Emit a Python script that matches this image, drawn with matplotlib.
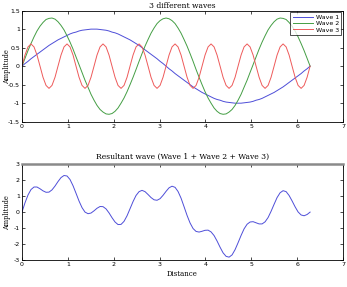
import numpy as np
import matplotlib
matplotlib.use('Agg')
import matplotlib.pyplot as plt

# sample positions along the distance axis (0 .. 2*pi)
distance = [0.000, 0.065, 0.131, 0.196, 0.262, 0.327, 0.393, 0.458, 0.524, 0.589,
            0.654, 0.720, 0.785, 0.851, 0.916, 0.982, 1.047, 1.113, 1.178, 1.244,
            1.309, 1.374, 1.440, 1.505, 1.571, 1.636, 1.702, 1.767, 1.833, 1.898,
            1.963, 2.029, 2.094, 2.160, 2.225, 2.291, 2.356, 2.422, 2.487, 2.553,
            2.618, 2.683, 2.749, 2.814, 2.880, 2.945, 3.011, 3.076, 3.142, 3.207,
            3.272, 3.338, 3.403, 3.469, 3.534, 3.600, 3.665, 3.731, 3.796, 3.862,
            3.927, 3.992, 4.058, 4.123, 4.189, 4.254, 4.320, 4.385, 4.451, 4.516,
            4.581, 4.647, 4.712, 4.778, 4.843, 4.909, 4.974, 5.040, 5.105, 5.171,
            5.236, 5.301, 5.367, 5.432, 5.498, 5.563, 5.629, 5.694, 5.760, 5.825,
            5.890, 5.956, 6.021, 6.087, 6.152, 6.218, 6.283]

wave1 = [0.00, 0.07, 0.13, 0.20, 0.26, 0.32, 0.38, 0.44, 0.50, 0.56,
         0.61, 0.66, 0.71, 0.75, 0.79, 0.83, 0.87, 0.90, 0.92, 0.95,
         0.97, 0.98, 0.99, 1.00, 1.00, 1.00, 0.99, 0.98, 0.97, 0.95,
         0.92, 0.90, 0.87, 0.83, 0.79, 0.75, 0.71, 0.66, 0.61, 0.56,
         0.50, 0.44, 0.38, 0.32, 0.26, 0.20, 0.13, 0.07, 0.00, -0.07,
         -0.13, -0.20, -0.26, -0.32, -0.38, -0.44, -0.50, -0.56, -0.61, -0.66,
         -0.71, -0.75, -0.79, -0.83, -0.87, -0.90, -0.92, -0.95, -0.97, -0.98,
         -0.99, -1.00, -1.00, -1.00, -0.99, -0.98, -0.97, -0.95, -0.92, -0.90,
         -0.87, -0.83, -0.79, -0.75, -0.71, -0.66, -0.61, -0.56, -0.50, -0.44,
         -0.38, -0.32, -0.26, -0.20, -0.13, -0.07, 0.00]

wave2 = [0.00, 0.21, 0.42, 0.61, 0.79, 0.95, 1.08, 1.18, 1.26, 1.29,
         1.30, 1.27, 1.20, 1.10, 0.98, 0.82, 0.65, 0.46, 0.25, 0.04,
         -0.17, -0.38, -0.57, -0.76, -0.92, -1.06, -1.17, -1.24, -1.29, -1.30,
         -1.28, -1.22, -1.13, -1.00, -0.86, -0.69, -0.50, -0.30, -0.09, 0.13,
         0.34, 0.54, 0.72, 0.89, 1.03, 1.15, 1.23, 1.28, 1.30, 1.28,
         1.23, 1.15, 1.03, 0.89, 0.72, 0.54, 0.34, 0.13, -0.09, -0.30,
         -0.50, -0.69, -0.86, -1.00, -1.13, -1.22, -1.28, -1.30, -1.29, -1.24,
         -1.17, -1.06, -0.92, -0.76, -0.57, -0.38, -0.17, 0.04, 0.25, 0.46,
         0.65, 0.82, 0.98, 1.10, 1.20, 1.27, 1.30, 1.29, 1.26, 1.18,
         1.08, 0.95, 0.79, 0.61, 0.42, 0.21, 0.00]

wave3 = [0.00, 0.30, 0.52, 0.60, 0.52, 0.30, 0.00, -0.30, -0.52, -0.60, -0.52, -0.30,
         0.00, 0.30, 0.52, 0.60, 0.52, 0.30, 0.00, -0.30, -0.52, -0.60, -0.52, -0.30,
         0.00, 0.30, 0.52, 0.60, 0.52, 0.30, 0.00, -0.30, -0.52, -0.60, -0.52, -0.30,
         0.00, 0.30, 0.52, 0.60, 0.52, 0.30, 0.00, -0.30, -0.52, -0.60, -0.52, -0.30,
         0.00, 0.30, 0.52, 0.60, 0.52, 0.30, 0.00, -0.30, -0.52, -0.60, -0.52, -0.30,
         0.00, 0.30, 0.52, 0.60, 0.52, 0.30, 0.00, -0.30, -0.52, -0.60, -0.52, -0.30,
         0.00, 0.30, 0.52, 0.60, 0.52, 0.30, 0.00, -0.30, -0.52, -0.60, -0.52, -0.30,
         0.00, 0.30, 0.52, 0.60, 0.52, 0.30, 0.00, -0.30, -0.52, -0.60, -0.52, -0.30,
         0.00]

resultant = [0.00, 0.58, 1.07, 1.41, 1.57, 1.57, 1.46, 1.33, 1.24, 1.25,
             1.39, 1.63, 1.91, 2.16, 2.29, 2.26, 2.04, 1.65, 1.18, 0.69,
             0.28, 0.00, -0.10, -0.06, 0.08, 0.24, 0.35, 0.34, 0.20, -0.05,
             -0.35, -0.62, -0.78, -0.77, -0.58, -0.23, 0.21, 0.66, 1.04, 1.28,
             1.36, 1.28, 1.10, 0.91, 0.77, 0.74, 0.84, 1.05, 1.30, 1.52,
             1.62, 1.55, 1.29, 0.87, 0.34, -0.21, -0.68, -1.03, -1.21, -1.25,
             -1.20, -1.14, -1.13, -1.24, -1.47, -1.81, -2.20, -2.55, -2.77, -2.82,
             -2.68, -2.35, -1.92, -1.46, -1.05, -0.76, -0.62, -0.60, -0.67, -0.74,
             -0.74, -0.61, -0.34, 0.05, 0.49, 0.91, 1.21, 1.34, 1.28, 1.04,
             0.70, 0.33, 0.01, -0.18, -0.23, -0.15, 0.00]

x_ticks = [0, 1, 2, 3, 4, 5, 6, 7]
top_yticks = [-1.5, -1, -0.5, 0, 0.5, 1, 1.5]
top_ylabels = ['-1.5', '-1', '-0.5', '0', '0.5', '1', '1.5']
bottom_yticks = [-3, -2, -1, 0, 1, 2, 3]
bottom_ylabels = ['-3', '-2', '-1', '0', '1', '2', '3']

BLUE = '#4e4ed8'
GREEN = '#449e44'
RED = '#ee5a5a'

serif = 'DejaVu Serif'
sans = 'DejaVu Sans'


def style_axes(ax, yticks, ylabels):
    ax.set_xlim(0, 7)
    ax.set_xticks(x_ticks)
    ax.set_yticks(yticks)
    ax.set_yticklabels(ylabels)
    ax.set_ylim(yticks[0], yticks[-1])
    ax.tick_params(direction='in', length=2, width=0.5, top=True, right=True,
                   labelsize=4.5, pad=1.5)
    for lab in ax.get_xticklabels() + ax.get_yticklabels():
        lab.set_family(sans)
    for sp in ax.spines.values():
        sp.set_linewidth(0.6)
    ax.set_ylabel('Amplitude', family=serif, fontsize=4.8)
    ax.yaxis.set_label_coords(-0.035, 0.5)


fig = plt.figure(figsize=(3.47, 2.87), dpi=100)
ax1 = fig.add_axes([0.0634, 0.576, 0.925, 0.387])
ax2 = fig.add_axes([0.0634, 0.094, 0.925, 0.334])

ax1.plot(distance, wave1, color=BLUE, lw=0.7, label='Wave 1')
ax1.plot(distance, wave2, color=GREEN, lw=0.7, label='Wave 2')
ax1.plot(distance, wave3, color=RED, lw=0.7, label='Wave 3')
style_axes(ax1, top_yticks, top_ylabels)
ax1.set_title('3 different waves', family=serif, fontsize=5.5, pad=2)
leg = ax1.legend(loc='upper right', frameon=True, fancybox=False,
                 borderaxespad=0.3, handlelength=3.2, handletextpad=0.5,
                 labelspacing=0.15, borderpad=0.35, prop={'family': sans, 'size': 4.5})
leg.get_frame().set_edgecolor('black')
leg.get_frame().set_linewidth(0.6)

ax2.plot(distance, resultant, color=BLUE, lw=0.7)
style_axes(ax2, bottom_yticks, bottom_ylabels)
ax2.spines['top'].set_color('#8a8a8a')
ax2.spines['top'].set_linewidth(1.8)
ax2.set_title('Resultant wave (Wave 1 + Wave 2 + Wave 3)', family=serif, fontsize=5.5, pad=4)
ax2.set_xlabel('Distance', family=serif, fontsize=5, labelpad=2)

fig.savefig('out.png', dpi=100)
